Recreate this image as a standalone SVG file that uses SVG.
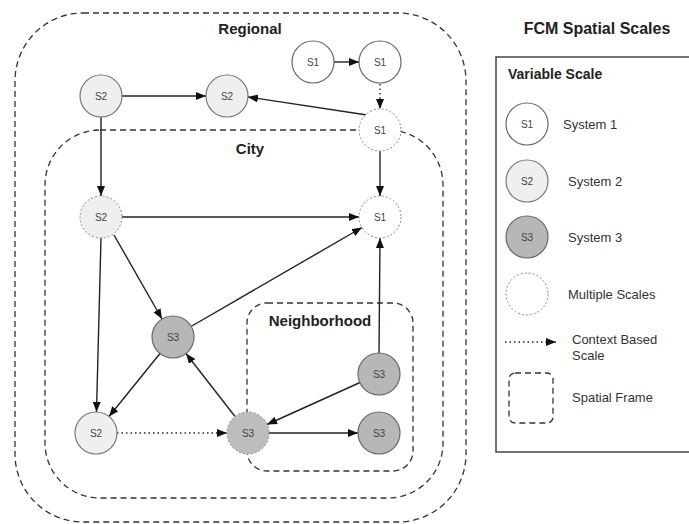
<svg xmlns="http://www.w3.org/2000/svg" width="689" height="524" viewBox="0 0 689 524">
<style>
.frame{fill:none;stroke:#333;stroke-width:1.3;stroke-dasharray:6 4}
.s1{fill:#fff;stroke:#666;stroke-width:1.2}
.s2{fill:#efefef;stroke:#777;stroke-width:1.2}
.s3{fill:#b7b7b7;stroke:#666;stroke-width:1.2}
.ms{stroke:#888;stroke-width:1;stroke-dasharray:2 2}
.nl{font-family:"Liberation Sans",Arial,sans-serif;font-size:10px;fill:#444;text-anchor:middle}
.fl{font-family:"Liberation Sans",Arial,sans-serif;font-size:15px;font-weight:bold;fill:#222;text-anchor:middle}
.lt{font-family:"Liberation Sans",Arial,sans-serif;font-size:13px;fill:#333}
.e{stroke:#222;stroke-width:1.4;fill:none;marker-end:url(#ah)}
.d{stroke:#222;stroke-width:1.4;fill:none;stroke-dasharray:1.5 3;marker-end:url(#ah)}
</style>
<defs>
<marker id="ah" markerUnits="userSpaceOnUse" markerWidth="10" markerHeight="8" refX="10" refY="4" orient="auto">
<path d="M0,0 L10,4 L0,8 z" fill="#111"/>
</marker>
</defs>
<rect width="689" height="524" fill="#fff"/>

<g id="frame-regional">
<rect class="frame" x="15" y="13" width="451" height="509" rx="68"/>
<text class="fl" x="250" y="34">Regional</text>
</g>
<g id="frame-city">
<rect class="frame" x="45" y="130" width="398" height="368" rx="55"/>
<text class="fl" x="250" y="154">City</text>
</g>
<g id="frame-neighborhood">
<rect class="frame" x="247" y="303" width="166" height="168" rx="20"/>
<text class="fl" x="320" y="326">Neighborhood</text>
</g>

<g id="connectors">
<line class="e" x1="334" y1="62" x2="359" y2="62"/>
<line class="d" x1="380" y1="84" x2="380" y2="109"/>
<line class="e" x1="367" y1="115" x2="248" y2="97"/>
<line class="e" x1="122" y1="96" x2="206" y2="96"/>
<line class="e" x1="101" y1="117" x2="101" y2="196"/>
<line class="e" x1="380" y1="151" x2="380" y2="196"/>
<line class="e" x1="122" y1="217" x2="359" y2="217"/>
<line class="e" x1="114" y1="235" x2="162" y2="319"/>
<line class="e" x1="101" y1="238" x2="96.5" y2="412"/>
<line class="e" x1="191" y1="326.5" x2="362" y2="227.5"/>
<line class="e" x1="160" y1="353.5" x2="109" y2="416.5"/>
<line class="e" x1="235" y1="416.5" x2="186" y2="353.5"/>
<line class="e" x1="379" y1="353" x2="380" y2="238"/>
<line class="e" x1="360" y1="382.5" x2="267" y2="424.5"/>
<line class="e" x1="269" y1="433" x2="358" y2="433"/>
<line class="d" x1="117" y1="433" x2="227" y2="433"/>
</g>

<g id="n-s1-a"><circle class="s1" cx="313" cy="62" r="21"/><text class="nl" x="313" y="65.5">S1</text></g>
<g id="n-s1-b"><circle class="s1" cx="380" cy="62" r="21"/><text class="nl" x="380" y="65.5">S1</text></g>
<g id="n-s2-a"><circle class="s2" cx="101" cy="96" r="21"/><text class="nl" x="101" y="99.5">S2</text></g>
<g id="n-s2-b"><circle class="s2" cx="227" cy="96" r="21"/><text class="nl" x="227" y="99.5">S2</text></g>
<g id="n-s1-c"><circle class="ms" fill="#fff" cx="380" cy="130" r="21"/><text class="nl" x="380" y="133.5">S1</text></g>
<g id="n-s1-d"><circle class="ms" fill="#fff" cx="380" cy="217" r="21"/><text class="nl" x="380" y="220.5">S1</text></g>
<g id="n-s2-c"><circle class="ms" fill="#efefef" cx="101" cy="217" r="21"/><text class="nl" x="101" y="220.5">S2</text></g>
<g id="n-s3-a"><circle class="s3" cx="173" cy="337" r="21"/><text class="nl" x="173" y="340.5">S3</text></g>
<g id="n-s3-b"><circle class="s3" cx="379" cy="374" r="21"/><text class="nl" x="379" y="377.5">S3</text></g>
<g id="n-s2-d"><circle class="s2" cx="96" cy="433" r="21"/><text class="nl" x="96" y="436.5">S2</text></g>
<g id="n-s3-c"><circle class="ms" fill="#bdbdbd" cx="248" cy="433" r="21"/><text class="nl" x="248" y="436.5">S3</text></g>
<g id="n-s3-d"><circle class="s3" cx="379" cy="433" r="21"/><text class="nl" x="379" y="436.5">S3</text></g>

<g id="legend">
<text x="597" y="34" text-anchor="middle" font-family="Liberation Sans, Arial, sans-serif" font-size="16" font-weight="bold" fill="#222">FCM Spatial Scales</text>
<rect x="496" y="57" width="210" height="395" fill="none" stroke="#444" stroke-width="1.5"/>
<text x="508" y="79" font-family="Liberation Sans, Arial, sans-serif" font-size="14" font-weight="bold" fill="#222">Variable Scale</text>
<circle class="s1" cx="527" cy="124" r="21"/><text class="nl" x="527" y="127.5">S1</text>
<text class="lt" x="563" y="128.5">System 1</text>
<circle class="s2" cx="527" cy="181" r="21"/><text class="nl" x="527" y="184.5">S2</text>
<text class="lt" x="568" y="185.5">System 2</text>
<circle class="s3" cx="527" cy="237" r="21"/><text class="nl" x="527" y="240.5">S3</text>
<text class="lt" x="568" y="241.5">System 3</text>
<circle class="ms" fill="#fff" cx="527" cy="294" r="21"/>
<text class="lt" x="568" y="298.5">Multiple Scales</text>
<line class="d" x1="505" y1="342" x2="556" y2="342"/>
<text class="lt" x="572" y="343.5">Context Based</text>
<text class="lt" x="572" y="359.5">Scale</text>
<rect class="frame" x="509" y="373" width="44" height="50" rx="6"/>
<text class="lt" x="572" y="401.5">Spatial Frame</text>
</g>
</svg>
